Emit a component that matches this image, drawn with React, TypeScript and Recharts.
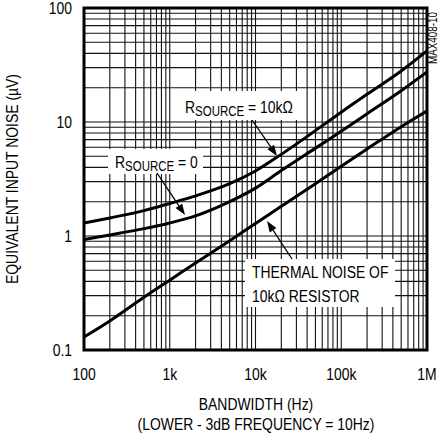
import { LineChart, Line, XAxis, YAxis, CartesianGrid, ReferenceArea } from "recharts";

// bandwidth (Hz)
const freqs = [100, 200, 500, 1e3, 2e3, 5e3, 1e4, 2e4, 5e4, 1e5, 2e5, 5e5, 1e6];
// equivalent input noise (uV)
const rs10k = [1.3, 1.44, 1.67, 1.93, 2.25, 2.88, 3.72, 5.2, 8.4, 12.2, 17.5, 28, 42];
const rs0 = [0.93, 1.02, 1.16, 1.3, 1.5, 2.0, 2.63, 3.75, 5.9, 8.3, 11.8, 18.8, 27.5];
const thermal = [0.13, 0.18, 0.29, 0.41, 0.58, 0.91, 1.29, 1.82, 2.88, 4.1, 5.8, 9.1, 12.5];

const xDecades = [100, 1e3, 1e4, 1e5, 1e6];
const xDecadeLabels = ["100", "1k", "10k", "100k", "1M"];
const yDecades = [0.1, 1, 10, 100];
const yDecadeLabels = ["0.1", "1", "10", "100"];

const minorSteps = [1, 2, 3, 4, 5, 6, 7, 8, 9];
const xTicks = xDecades.slice(0, -1).flatMap((d) => minorSteps.map((m) => d * m)).concat([1e6]);
const yTicks = yDecades.slice(0, -1).flatMap((d) => minorSteps.map((m) => +(d * m).toPrecision(3))).concat([100]);

const data = freqs.map((f, i) => ({ f, rs10k: rs10k[i], rs0: rs0[i], thermal: thermal[i] }));

const FONT = "'Liberation Sans', Arial, sans-serif";
const NARROW = 0.82;

// condensed-looking text: Liberation Sans squeezed horizontally
function NText({
  x,
  y,
  size = 17,
  anchor = "start",
  rotate = 0,
  children,
}: {
  x: number;
  y: number;
  size?: number;
  anchor?: "start" | "middle" | "end";
  rotate?: number;
  children: React.ReactNode;
}) {
  return (
    <text
      transform={`translate(${x},${y}) rotate(${rotate}) scale(${NARROW},1)`}
      textAnchor={anchor}
      fontSize={size}
      fontFamily={FONT}
      fill="#000"
    >
      {children}
    </text>
  );
}

function Arrow({ x1, y1, x2, y2 }: { x1: number; y1: number; x2: number; y2: number }) {
  const dx = x2 - x1;
  const dy = y2 - y1;
  const len = Math.hypot(dx, dy);
  const ux = dx / len;
  const uy = dy / len;
  const hl = 11;
  const hw = 4;
  const bx = x2 - ux * hl;
  const by = y2 - uy * hl;
  const pts = `${x2},${y2} ${bx - uy * hw},${by + ux * hw} ${bx + uy * hw},${by - ux * hw}`;
  return (
    <g>
      <line x1={x1} y1={y1} x2={bx} y2={by} stroke="#000" strokeWidth={1.3} />
      <polygon points={pts} fill="#000" />
    </g>
  );
}

const XTick = (props: any) => {
  const { x, y, payload } = props;
  const i = xDecades.indexOf(payload.value);
  if (i < 0) return null;
  return (
    <NText x={x} y={y + 13} anchor="middle">
      {xDecadeLabels[i]}
    </NText>
  );
};

const YTick = (props: any) => {
  const { x, y, payload } = props;
  const i = yDecades.indexOf(payload.value);
  if (i < 0) return null;
  return (
    <NText x={x} y={y + 6} anchor="end">
      {yDecadeLabels[i]}
    </NText>
  );
};

export default function App() {
  return (
    <div style={{ position: "absolute", left: 0, top: 0, width: 442, height: 440, background: "#fff" }}>
      <LineChart width={442} height={440} data={data} margin={{ top: 8, right: 15, bottom: 60, left: 8 }}>
        <CartesianGrid stroke="#111" strokeWidth={1.1} horizontalValues={yTicks} verticalValues={xTicks} />
        <XAxis
          dataKey="f"
          type="number"
          scale="log"
          domain={[100, 1e6]}
          ticks={xTicks}
          interval={0}
          tick={<XTick />}
          tickLine={false}
          tickSize={0}
          tickMargin={17}
          axisLine={false}
          height={30}
          allowDataOverflow
        />
        <YAxis
          type="number"
          scale="log"
          domain={[0.1, 100]}
          ticks={yTicks}
          interval={0}
          tick={<YTick />}
          tickLine={false}
          tickSize={0}
          tickMargin={12}
          axisLine={false}
          width={76}
          allowDataOverflow
        />
        <ReferenceArea x1={100} x2={1e6} y1={0.1} y2={100} fill="none" stroke="#000" strokeWidth={3} fillOpacity={0} />
        <Line dataKey="rs10k" type="monotone" stroke="#000" strokeWidth={3} dot={false} isAnimationActive={false} />
        <Line dataKey="rs0" type="monotone" stroke="#000" strokeWidth={3} dot={false} isAnimationActive={false} />
        <Line dataKey="thermal" type="monotone" stroke="#000" strokeWidth={3} dot={false} isAnimationActive={false} />
      </LineChart>
      <svg width={442} height={440} style={{ position: "absolute", left: 0, top: 0, pointerEvents: "none" }}>
        <rect x={180} y={91} width={125} height={29} fill="#fff" />
        <NText x={185} y={113}>
          R<tspan fontSize={14} dy={3}>SOURCE</tspan>
          <tspan dy={-3}> = 10kΩ</tspan>
        </NText>
        <Arrow x1={252} y1={120} x2={277} y2={156} />

        <rect x={108} y={149} width={95} height={25} fill="#fff" />
        <NText x={115} y={168}>
          R<tspan fontSize={14} dy={3}>SOURCE</tspan>
          <tspan dy={-3}> = 0</tspan>
        </NText>
        <Arrow x1={157} y1={173} x2={185} y2={215} />

        <rect x={245} y={259} width={150} height={48} fill="#fff" />
        <NText x={252} y={278}>THERMAL NOISE OF</NText>
        <NText x={252} y={302}>10kΩ RESISTOR</NText>
        <Arrow x1={292} y1={259} x2={267} y2={221} />

        <NText x={18} y={179} anchor="middle" rotate={-90}>
          EQUIVALENT INPUT NOISE (µV)
        </NText>
        <NText x={437} y={38} anchor="middle" rotate={-90} size={12}>
          MAX408-10
        </NText>
        <NText x={256} y={410} anchor="middle">
          BANDWIDTH (Hz)
        </NText>
        <NText x={256} y={430} anchor="middle">
          (LOWER - 3dB FREQUENCY = 10Hz)
        </NText>
      </svg>
    </div>
  );
}
